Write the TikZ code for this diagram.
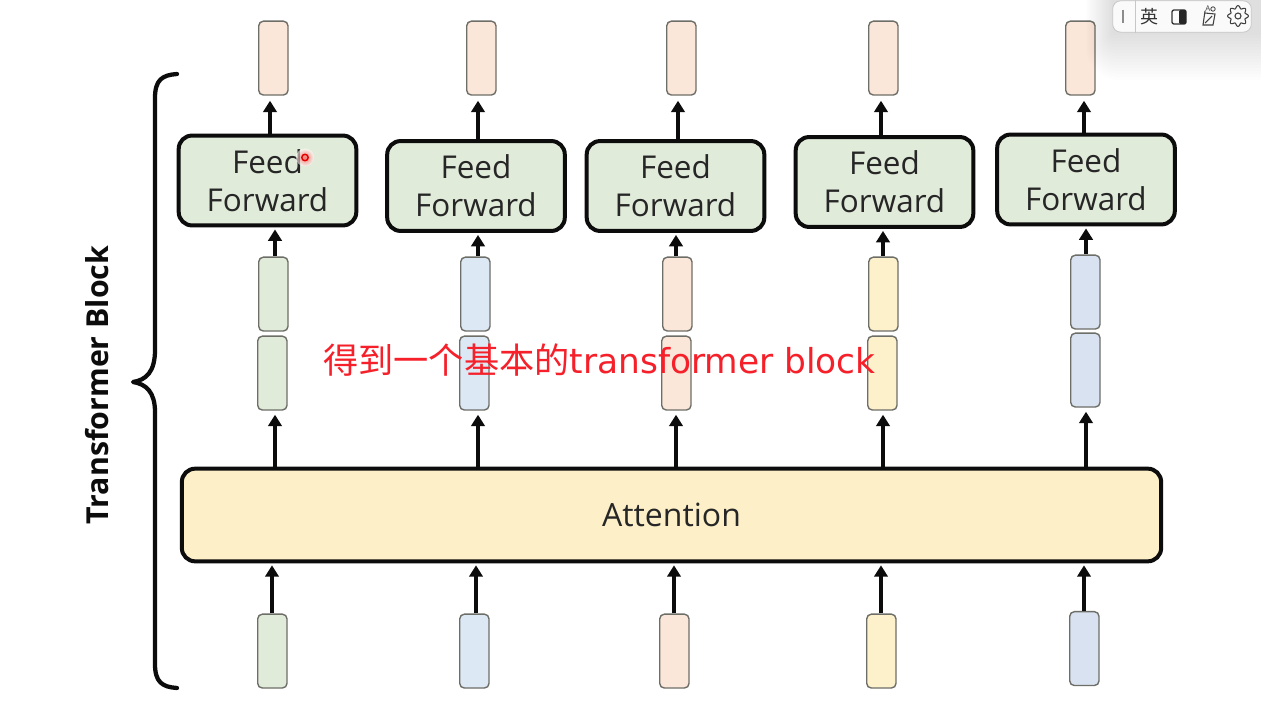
\documentclass[tikz,border=0pt]{standalone}
\usepackage{fontspec}
\setmainfont{Open Sans}
\newfontfamily\cjk{Noto Sans CJK SC}
\newfontfamily\capl{DejaVu Sans}
\usetikzlibrary{arrows.meta,calc}
\definecolor{cgreen}{HTML}{E1EBDA}
\definecolor{cblue}{HTML}{DCE8F4}
\definecolor{cpeach}{HTML}{FAE7D9}
\definecolor{cyellow}{HTML}{FDF1CC}
\definecolor{cnavy}{HTML}{D9E2F1}
\definecolor{cattn}{HTML}{FDF0C9}
\definecolor{cink}{HTML}{0C0C0C}
\definecolor{tokedge}{HTML}{6E6E68}
\definecolor{capred}{HTML}{F5202A}
\tikzset{
  x=0.75pt,y=-0.75pt,
  tok/.style={draw=tokedge,line width=1.05pt,rounded corners=3.5pt,minimum width=22pt,minimum height=55.4pt,inner sep=0pt,anchor=north west,yshift=0.4pt},
  ffbox/.style={draw=cink,line width=3pt,rounded corners=10pt,fill=cgreen,minimum width=133.2pt,minimum height=67.4pt,inner sep=0pt,anchor=center,align=center,font=\fontsize{23.6pt}{28.5pt}\selectfont,text=black!85},
  attnbox/.style={draw=cink,line width=3pt,rounded corners=10pt,fill=cattn,inner sep=0pt,font=\fontsize{24pt}{29pt}\selectfont,text=black!85},
  arr/.style={draw=cink,line width=2.7pt,-{Triangle[length=8.5pt,width=10pt]}},
  bracepath/.style={draw=cink,line width=3.2pt,line cap=round,line join=round},
  overlaytext/.style={text=capred,font=\fontsize{26.4pt}{30pt}\selectfont,inner sep=0pt},
}
\begin{document}
\begin{tikzpicture}
\useasboundingbox[fill=white] (0,0) rectangle (1261,710);
% feed-forward boxes
\node[ffbox] (ff1) at (267.5,180.5) {Feed\\Forward};
\node[ffbox] (ff2) at (476,186) {Feed\\Forward};
\node[ffbox] (ff3) at (675.5,186) {Feed\\Forward};
\node[ffbox] (ff4) at (884.5,182) {Feed\\Forward};
\node[ffbox] (ff5) at (1086,179.5) {Feed\\Forward};
% attention
\node[attnbox,minimum width=734.5pt,minimum height=69.5pt] (attn) at (671.5,515) {Attention};
% outputs
\node[tok,fill=cpeach] (o1) at (258,21) {};
\node[tok,fill=cpeach] (o2) at (466,21) {};
\node[tok,fill=cpeach] (o3) at (666,21) {};
\node[tok,fill=cpeach] (o4) at (868,21) {};
\node[tok,fill=cpeach] (o5) at (1065,21) {};
% upper mid
\node[tok,fill=cgreen] (u1) at (258,257) {};
\node[tok,fill=cblue] (u2) at (460,257) {};
\node[tok,fill=cpeach] (u3) at (662,257) {};
\node[tok,fill=cyellow] (u4) at (868,257) {};
\node[tok,fill=cnavy] (u5) at (1070,255) {};
% lower mid
\node[tok,fill=cgreen] (l1) at (257,336) {};
\node[tok,fill=cblue] (l2) at (459,336) {};
\node[tok,fill=cpeach] (l3) at (661,336) {};
\node[tok,fill=cyellow] (l4) at (867,336) {};
\node[tok,fill=cnavy] (l5) at (1070,333) {};
% inputs
\node[tok,fill=cgreen] (i1) at (257,614) {};
\node[tok,fill=cblue] (i2) at (459,614) {};
\node[tok,fill=cpeach] (i3) at (659,614) {};
\node[tok,fill=cyellow] (i4) at (866,614) {};
\node[tok,fill=cnavy] (i5) at (1069,611.5) {};
% arrows
\foreach \n/\xa/\xb/\xc/\xd in {1/270/275/275/272,2/478/478/478/476,3/678/676/676/674,4/881/883/883/881,5/1084/1086/1086/1084}{
  \coordinate (ga\n) at (\xa,0);
  \coordinate (gb\n) at (\xb,0);
  \coordinate (gc\n) at (\xc,0);
  \coordinate (gd\n) at (\xd,0);
  \draw[arr,shorten >=3.75pt] (ff\n.north -| ga\n) -- (o\n.south -| ga\n);
  \draw[arr,shorten >=1.5pt] (u\n.north -| gb\n) -- (ff\n.south -| gb\n);
  \draw[arr,shorten >=3pt] (attn.north -| gc\n) -- (l\n.south -| gc\n);
  \draw[arr,shorten >=1.5pt] (i\n.north -| gd\n) -- (attn.south -| gd\n);
}
% brace
\draw[bracepath] (177,74) .. controls (162,75) and (155,80) .. (155,98) -- (155,350)
  .. controls (155,372) and (146,380) .. (133,382)
  .. controls (146,384) and (155,392) .. (155,412) -- (155,664)
  .. controls (155,682) and (162,687) .. (177,688);
\node[rotate=90,font=\bfseries\fontsize{22.7pt}{27pt}\selectfont,text=cink,inner sep=0pt] (tb) at (97,385) {Transformer Block};
% overlay caption
\node[overlaytext,anchor=west] (cap) at (323,360) {\cjk 得到一个基本的\capl\fontsize{25.8pt}{30pt}\selectfont transformer block};
% pointer
\shade[inner color=red!80,outer color=white,opacity=0.6] (305,157.5) circle (9);
\draw[red!90!black,line width=1.1pt] (305,157.5) circle (3.2);
% toolbar soft shadow
\foreach \k in {1,...,16}{
  \fill[black,opacity=0.009,rounded corners=\k*1.6pt] ({1113-\k*1.7},-30) rectangle ({1290},{32+\k*3});
}
\node[draw=black!22,fill=black!2,line width=0.6pt,rounded corners=6pt,minimum width=104pt,minimum height=23.5pt,inner sep=0pt] (bar) at (1182,16.5) {};
\draw[black!22,line width=0.6pt] (bar.north west -| 1135,0) -- (bar.south west -| 1135,0);
\draw[black!45,line width=1.1pt] (1123,10) -- (1123,23);
\node[font=\cjk\fontsize{13.5pt}{16pt}\selectfont,text=black!80,inner sep=0pt] (ying) at (1149,17) {英};
\draw[black!80,line width=1pt,rounded corners=1.5pt] (1172,10) rectangle (1186,24);
\fill[black!85,rounded corners=1pt] (1179,10) rectangle (1186,24);
\draw[black!75,line width=0.8pt] (1205,11) -- (1203,25) -- (1213,25) -- (1215,14) -- (1205,13);
\draw[black!75,line width=0.8pt] (1205,23) -- (1212,16);
\node[font=\fontsize{6pt}{7pt}\selectfont,text=black!75,inner sep=0pt] (ao) at (1208,9) {A};
\draw[black!75,line width=0.6pt] (1213,9) circle (2.2);
\draw[black!75,line width=0.8pt] (1238,16) circle (3);
\draw[black!75,line width=0.8pt,line join=round] plot[domain=0:360,samples=97,smooth] ({1238+(9+1.4*cos(8*\x))*cos(\x)},{16+(9+1.4*cos(8*\x))*sin(\x)}) -- cycle;
\end{tikzpicture}
\end{document}
